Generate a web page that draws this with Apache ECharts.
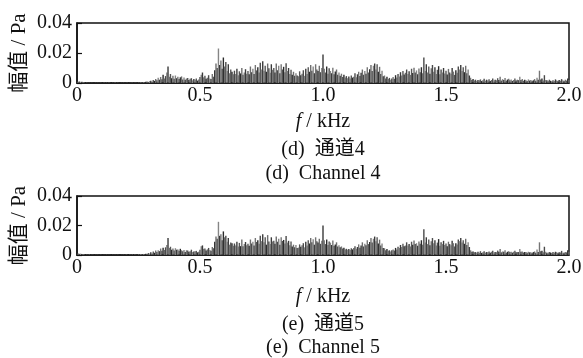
<!DOCTYPE html>
<html>
<head>
<meta charset="utf-8">
<script src="https://cdn.jsdelivr.net/npm/echarts@6/dist/echarts.min.js"></script>
<style>
  html, body { margin: 0; padding: 0; background: #fff; }
  #chart { width: 583px; height: 358px; }
</style>
</head>
<body>
<div id="chart"></div>
<script>
// frequency grid of the spectrum, kHz
const FREQ_STEP = 0.005;

// amplitude spectrum, channel 4 (mPa), one value per FREQ_STEP from 0 to 2.0 kHz
const ch4Amp = [
  1.2,0.9,1.0,0.7,0.8,0.6,0.5,0.3,0.3,0.2,0.2,0.3,0.2,0.2,0.3,0.2,0.2,0.2,0.3,0.2,
  0.2,0.2,0.3,0.2,0.2,0.2,0.3,0.2,0.2,0.2,0.2,0.3,0.2,0.2,0.2,0.3,0.2,0.2,0.2,0.2,
  0.2,0.3,0.2,0.2,0.3,0.2,0.3,0.2,0.3,0.4,0.3,0.4,0.5,0.4,0.6,0.5,0.8,1.0,0.7,1.2,
  1.5,0.9,2.0,1.4,2.6,1.8,3.5,2.2,4.0,2.5,5.5,3.0,4.6,7.0,11.0,4.2,6.0,3.2,4.8,2.8,
  5.0,3.2,4.2,2.6,3.8,4.4,2.4,3.6,2.2,3.0,3.4,2.0,2.8,3.2,1.8,2.6,2.2,3.0,1.6,2.4,
  4.0,5.5,7.0,3.8,4.8,2.8,3.5,5.2,3.0,2.6,6.0,4.2,8.5,13.0,10.0,23.0,12.0,15.0,9.5,17.0,
  11.0,14.0,8.0,12.5,6.5,9.0,7.5,5.8,8.2,6.0,9.5,5.2,7.8,6.4,10.0,5.5,7.0,9.2,6.2,8.0,
  5.8,11.0,7.2,9.5,6.0,12.0,8.4,10.5,7.0,13.5,9.0,14.5,8.2,11.5,7.5,13.0,9.8,6.8,12.5,8.8,
  10.0,7.0,13.0,8.5,11.5,6.5,12.5,9.0,10.8,7.2,13.2,8.0,10.0,6.0,8.8,5.5,7.5,4.8,6.5,5.0,
  4.5,7.8,5.2,6.2,8.5,4.8,9.5,6.0,10.5,7.5,12.0,8.2,11.0,6.5,12.5,9.0,8.0,11.5,7.2,10.0,
  19.0,9.5,7.0,11.0,6.2,9.8,8.0,6.5,10.2,5.8,7.6,9.0,5.5,7.0,4.8,6.2,4.0,5.5,3.6,4.6,
  3.2,4.4,3.0,5.0,3.6,4.2,6.5,3.8,5.8,7.5,4.6,6.8,9.0,5.5,8.0,6.2,10.5,7.0,9.2,12.0,
  8.0,11.5,13.0,9.0,12.5,7.5,10.8,6.0,8.2,4.5,5.0,3.0,4.2,2.6,3.4,2.2,3.0,4.0,2.8,5.2,
  3.6,6.0,4.4,7.2,5.0,8.0,5.6,6.8,9.0,6.0,7.8,5.4,9.5,6.6,10.2,7.0,8.4,5.8,9.6,7.2,
  10.5,6.5,17.0,8.0,12.5,7.0,11.0,6.2,9.8,12.0,7.5,10.5,6.0,8.8,11.2,5.8,9.0,7.0,10.0,6.4,
  8.2,5.6,9.4,7.0,6.2,10.0,7.6,5.4,8.5,6.8,11.0,9.0,12.0,8.0,10.5,7.2,11.5,6.5,9.0,5.0,
  3.5,2.0,2.6,1.6,2.2,1.4,2.0,1.8,2.4,1.3,1.9,2.8,1.5,2.2,1.7,2.5,1.4,2.0,3.0,1.6,
  2.2,1.8,3.2,2.0,4.2,1.6,2.6,2.0,3.4,1.5,2.3,2.8,1.8,2.4,1.4,2.0,3.0,1.6,2.2,1.9,
  4.2,2.0,2.6,1.5,2.2,1.8,1.4,2.4,1.6,2.0,1.3,1.8,2.6,1.5,3.5,2.2,8.2,2.4,3.0,1.6,
  5.2,2.0,1.8,1.4,2.2,1.5,1.2,1.9,1.4,2.4,1.6,1.3,2.0,1.5,2.6,1.8,1.4,2.2,1.6,3.0,
  2.0
];

// amplitude spectrum, channel 5 (mPa)
const ch5Amp = [
  1.0,1.1,0.8,0.9,0.6,0.7,0.5,0.4,0.3,0.2,0.3,0.2,0.2,0.3,0.2,0.2,0.3,0.2,0.2,0.2,
  0.2,0.3,0.2,0.2,0.2,0.3,0.2,0.2,0.3,0.2,0.2,0.2,0.3,0.2,0.2,0.2,0.2,0.3,0.2,0.2,
  0.3,0.2,0.2,0.3,0.2,0.3,0.2,0.3,0.4,0.3,0.5,0.3,0.6,0.4,0.7,0.6,0.9,0.7,1.3,1.0,
  1.8,1.1,2.4,1.5,3.0,2.0,3.2,2.6,4.4,2.8,5.0,3.4,5.2,6.8,11.5,4.8,5.6,3.6,4.4,3.0,
  4.6,3.6,3.8,2.8,4.2,3.2,2.6,3.4,2.0,3.2,3.0,2.2,2.6,3.6,2.0,2.4,2.6,2.8,1.8,2.2,
  3.6,6.0,6.5,4.2,4.4,3.0,3.8,4.8,3.4,2.8,5.5,4.6,9.0,12.5,11.0,22.5,13.0,14.0,10.0,16.0,
  12.0,13.0,9.0,11.5,7.0,8.5,8.0,6.2,7.8,6.5,9.0,5.8,8.2,6.0,10.5,6.0,7.5,8.8,6.6,7.6,
  6.2,10.5,7.8,9.0,6.5,11.5,8.8,10.0,7.6,13.0,9.4,14.0,8.6,12.0,7.0,13.5,9.2,7.4,12.0,9.2,
  9.6,7.6,12.5,9.0,11.0,7.0,12.0,9.5,10.2,7.8,12.8,8.4,9.6,6.6,9.2,5.8,7.0,5.2,6.8,4.8,
  5.0,7.2,5.6,6.6,8.0,5.2,9.0,6.4,10.0,7.8,11.5,8.6,10.6,7.0,12.0,9.4,8.4,11.0,7.6,9.6,
  20.0,10.0,7.4,10.5,6.8,9.2,8.4,6.8,9.8,6.2,7.2,8.6,5.8,6.6,5.2,5.8,4.4,5.0,3.8,4.2,
  3.6,4.0,3.4,4.6,3.8,4.8,6.0,4.2,5.4,7.2,5.0,6.4,8.6,5.8,7.6,6.6,10.0,7.4,8.8,11.5,
  8.4,11.0,12.5,9.4,12.0,7.8,10.4,6.4,7.8,4.8,4.6,3.2,4.0,2.8,3.2,2.4,3.2,3.8,3.0,4.8,
  3.8,5.6,4.8,6.8,5.4,7.6,6.0,6.4,8.6,6.4,7.4,5.8,9.0,7.0,9.8,7.4,8.0,6.2,9.2,7.6,
  10.0,7.0,17.5,8.4,12.0,7.4,10.5,6.6,9.4,11.5,8.0,10.0,6.4,8.4,10.8,6.2,8.6,7.4,9.6,6.8,
  7.8,6.0,9.0,7.4,6.6,9.6,8.0,5.8,8.0,7.2,10.5,9.4,11.5,8.4,10.0,7.6,11.0,6.8,8.6,5.4,
  3.2,2.2,2.4,1.8,2.0,1.6,2.2,1.6,2.6,1.4,1.8,2.6,1.6,2.0,1.8,2.4,1.5,2.2,2.8,1.7,
  2.0,1.9,3.0,2.2,4.0,1.8,2.4,2.2,3.2,1.6,2.2,2.6,2.0,2.2,1.6,2.2,2.8,1.8,2.0,2.0,
  4.0,2.2,2.4,1.7,2.0,2.0,1.5,2.2,1.8,1.8,1.4,2.0,2.4,1.6,3.8,2.0,8.6,2.6,2.8,1.8,
  5.6,2.2,1.6,1.6,2.0,1.7,1.3,2.0,1.6,2.2,1.8,1.4,1.8,1.7,2.8,1.6,1.5,2.0,1.8,3.2,
  2.2
];

const xTicks = [0, 0.5, 1.0, 1.5, 2.0];
const yTicks = [0, 0.02, 0.04];
const captions = [
  ['(d)  通道4', '(d)  Channel 4'],
  ['(e)  通道5', '(e)  Channel 5']
];

const FONT = "'Liberation Serif', 'Noto Sans CJK SC', serif";
const SHADES = ['#2a2a2a', '#6e6e6e', '#4a4a4a', '#858585', '#3a3a3a', '#757575', '#575757'];

const toSeriesData = arr => arr.map((v, i) => [i * FREQ_STEP, v / 1000]);

const chart = echarts.init(document.getElementById('chart'), null, { renderer: 'canvas' });

const panelTops = [23, 196];
const panelHeights = [60, 59];

const grids = panelTops.map((top, i) => ({
  left: 77,
  top,
  width: 492,
  height: panelHeights[i],
  outerBoundsMode: 'none',
  show: true,
  borderColor: '#111',
  borderWidth: 1.5,
  backgroundColor: 'transparent'
}));

const xAxes = panelTops.map((_, i) => ({
  type: 'value',
  gridIndex: i,
  min: xTicks[0],
  max: xTicks[xTicks.length - 1],
  interval: 0.5,
  axisLine: { show: true, lineStyle: { color: '#111', width: 1.5 } },
  axisTick: { show: false },
  splitLine: { show: false },
  axisLabel: {
    margin: 3,
    color: '#111',
    fontFamily: FONT,
    fontSize: 20,
    formatter: v => (v === 0 ? '0' : v.toFixed(1))
  }
}));

const yAxes = panelTops.map((_, i) => ({
  type: 'value',
  gridIndex: i,
  min: yTicks[0],
  max: yTicks[yTicks.length - 1],
  interval: 0.02,
  name: '幅值 / Pa',
  nameLocation: 'middle',
  nameRotate: 90,
  nameGap: 47,
  nameMoveOverlap: false,
  nameTextStyle: { color: '#111', fontFamily: FONT, fontSize: 21 },
  axisLine: { show: true, lineStyle: { color: '#111', width: 1.5 } },
  axisTick: { show: true, inside: true, length: 5, lineStyle: { color: '#111', width: 1.2 } },
  splitLine: { show: false },
  axisLabel: {
    margin: 5,
    color: '#111',
    fontFamily: FONT,
    fontSize: 20,
    formatter: v => (v === 0 ? '0' : v.toFixed(2))
  }
}));

const series = [ch4Amp, ch5Amp].map((arr, i) => ({
  type: 'bar',
  xAxisIndex: i,
  yAxisIndex: i,
  barWidth: 1.4,
  barGap: '-100%',
  data: toSeriesData(arr),
  itemStyle: {
    color: p => SHADES[p.dataIndex % SHADES.length]
  }
}));

const textEl = (y, text, extra) => ({
  type: 'text',
  x: 323,
  y,
  style: Object.assign({
    text,
    fill: '#111',
    fontFamily: FONT,
    fontSize: 20,
    textAlign: 'center',
    textVerticalAlign: 'middle'
  }, extra || {})
});

const axisTitle = { rich: { i: { fontStyle: 'italic', fontFamily: FONT, fontSize: 20 } } };

const graphic = [
  textEl(122, '{i|f} / kHz', axisTitle),
  textEl(150, captions[0][0]),
  textEl(174, captions[0][1]),
  textEl(297, '{i|f} / kHz', axisTitle),
  textEl(325, captions[1][0]),
  textEl(348, captions[1][1])
];

chart.setOption({
  animation: false,
  backgroundColor: '#fff',
  grid: grids,
  xAxis: xAxes,
  yAxis: yAxes,
  series,
  graphic
});
</script>
</body>
</html>
